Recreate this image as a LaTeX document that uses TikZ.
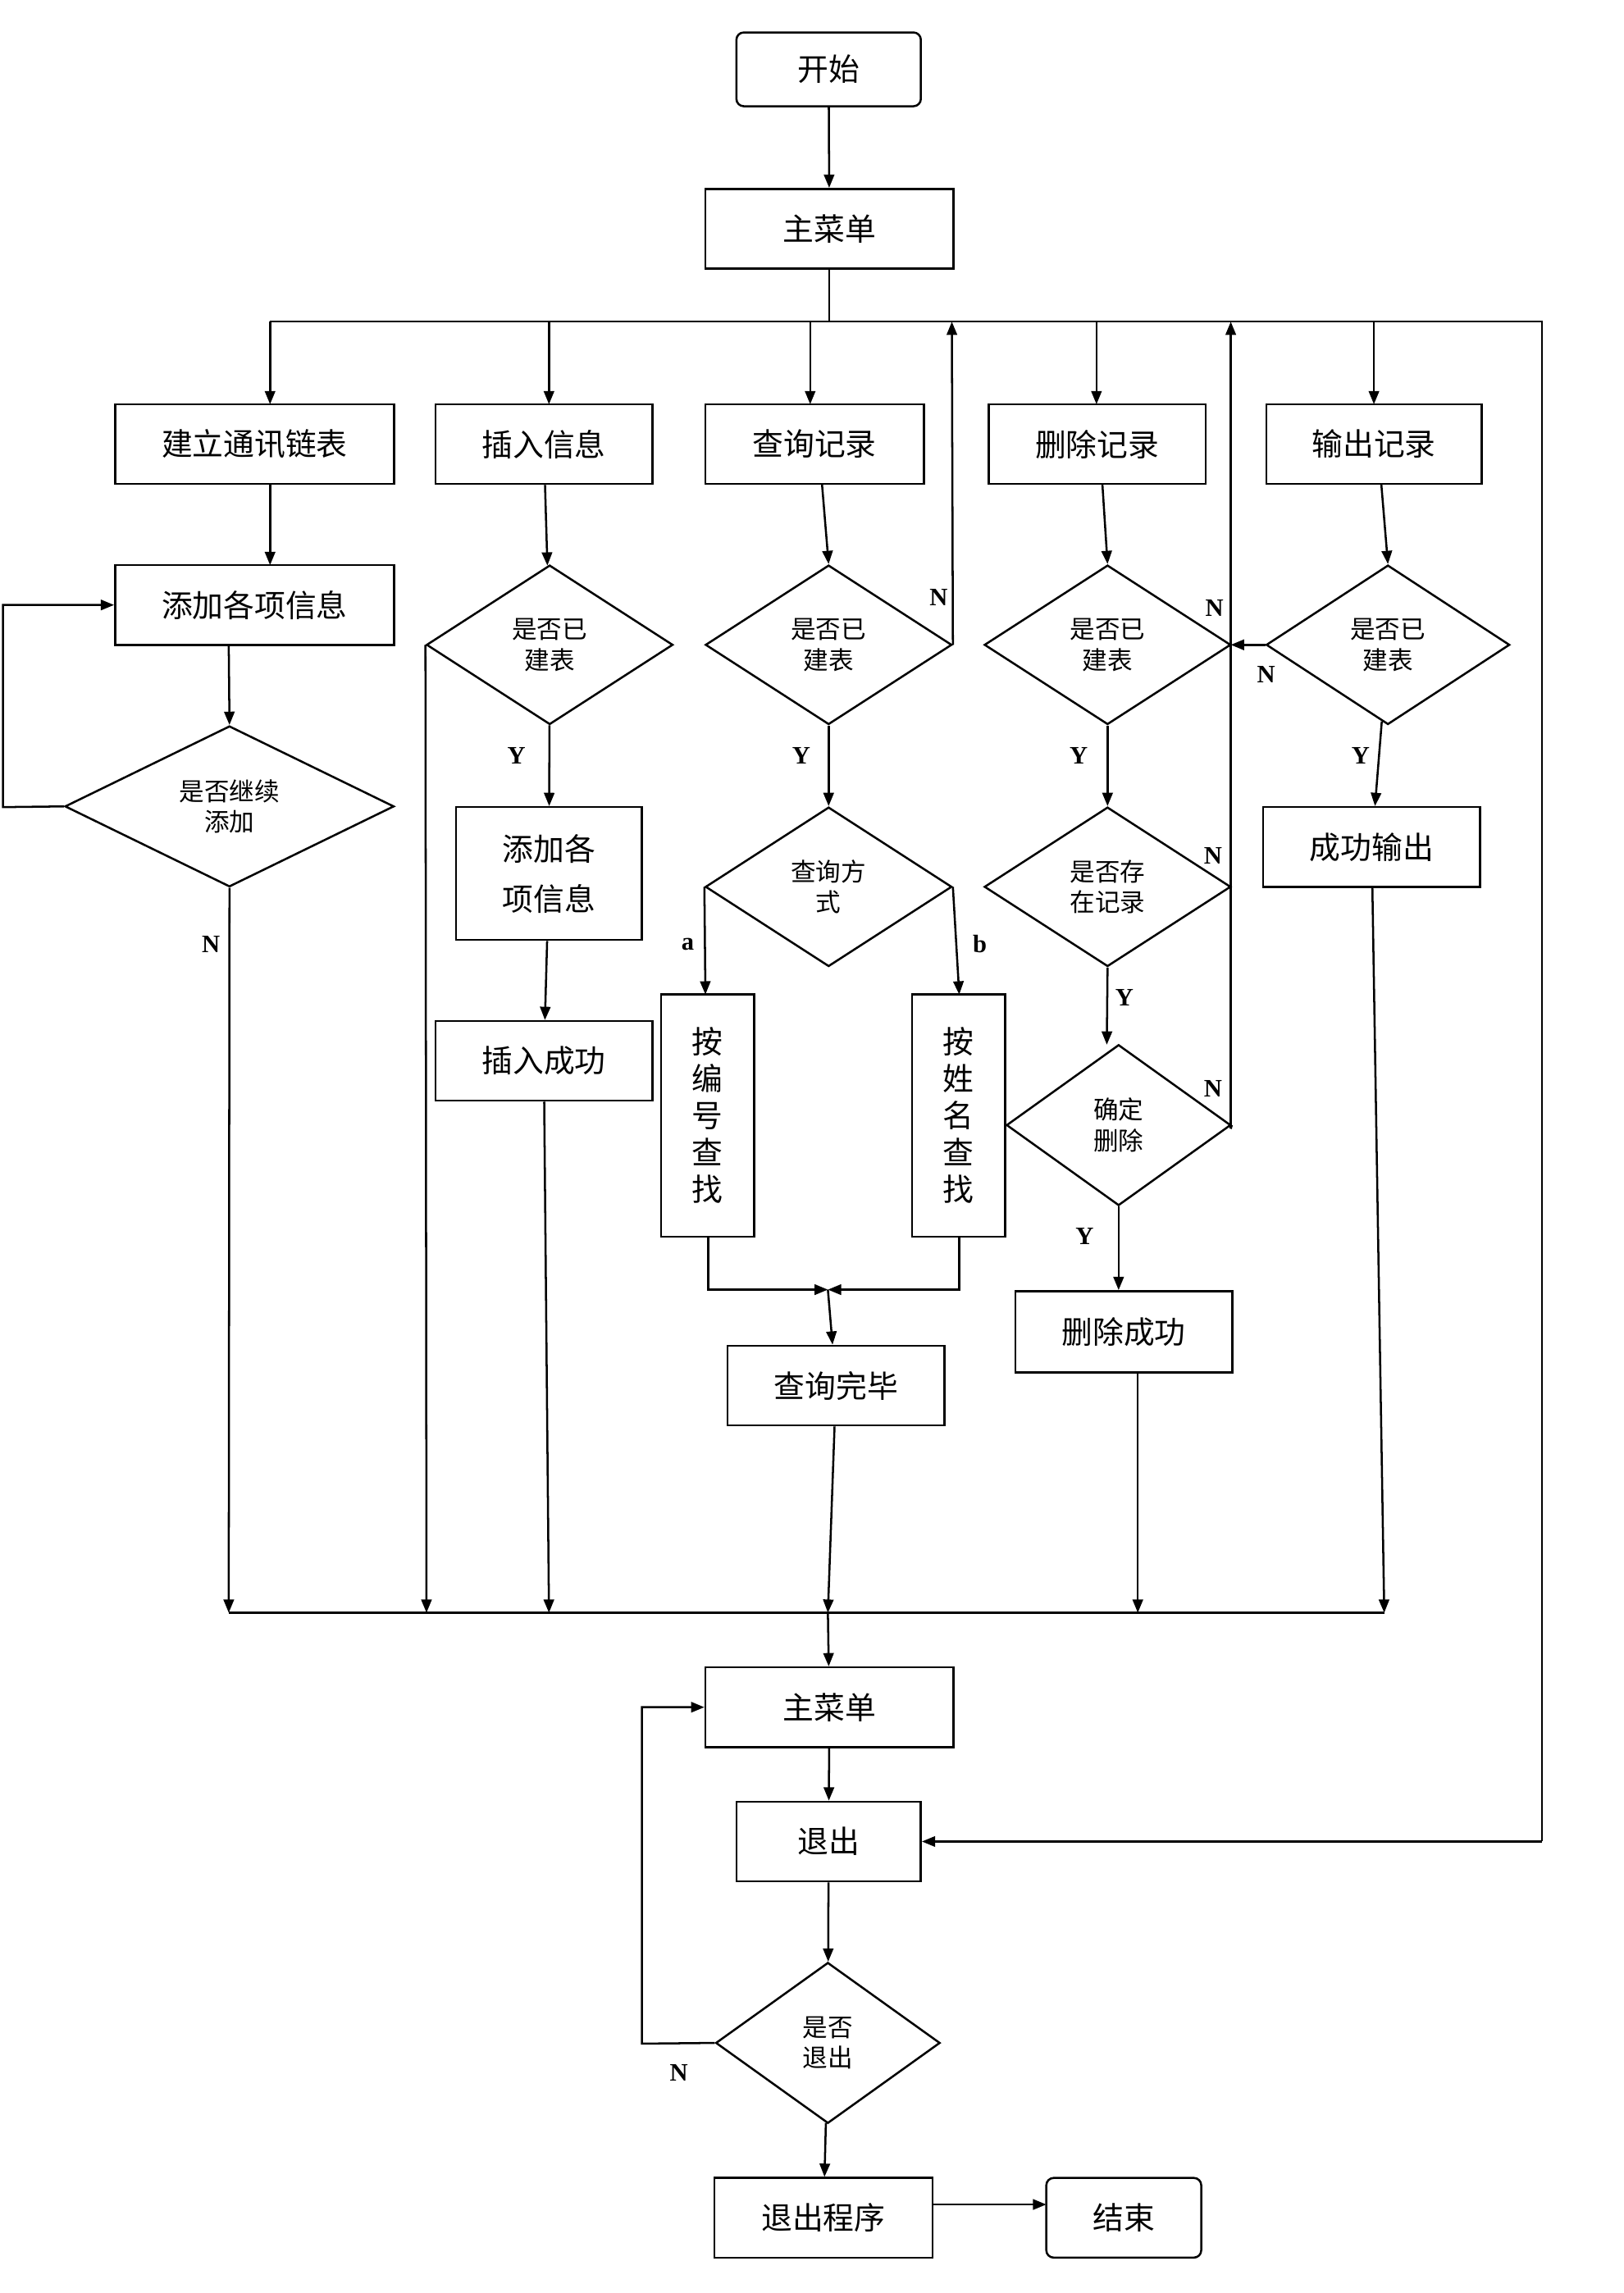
\documentclass[tikz,border=0pt]{standalone}
\usepackage{fontspec}
\setmainfont{Liberation Serif}
\newfontfamily\cjk{Noto Sans CJK SC}
\usetikzlibrary{shapes.geometric,arrows.meta}
\begin{document}
\begin{tikzpicture}[x=1pt,y=-1pt,line width=1.4pt,
 >={Triangle[length=9pt,width=7pt]},
 box/.style={draw,rectangle,inner sep=0pt,font=\cjk\fontsize{21}{24}\selectfont,align=center},
 rbox/.style={box,rounded corners=5pt},
 dia/.style={draw,diamond,inner sep=0pt,font=\cjk\fontsize{17}{21}\selectfont,align=center},
 lab/.style={font=\bfseries\fontsize{17}{20}\selectfont}]
\useasboundingbox (0,0) rectangle (1100,1554);
\def\B#1#2#3#4#5#6{\node[#6,minimum width=#4-#2,minimum height=#5-#3] (#1) at ({(#2+#4)/2},{(#3+#5)/2})}
\B{start}{499}{22}{624}{72}{rbox}{开始};
\B{m1}{478}{128}{646}{182}{box}{主菜单};
\B{b1}{78}{274}{267}{328}{box}{建立通讯链表};
\B{b2}{295}{274}{442}{328}{box}{插入信息};
\B{b3}{478}{274}{626}{328}{box}{查询记录};
\B{b4}{670}{274}{817}{328}{box}{删除记录};
\B{b5}{858}{274}{1004}{328}{box}{输出记录};
\B{add}{78}{383}{267}{437}{box}{添加各项信息};
\B{d1}{44}{492}{267}{601}{dia}{是否继续\\添加};
\B{d2}{289}{383}{456}{491}{dia}{是否已\\建表};
\B{add2}{309}{547}{435}{637}{box,font=\cjk\fontsize{21}{34}\selectfont}{添加各\\项信息};
\B{ins}{295}{692}{442}{746}{box}{插入成功};
\B{d3}{478}{383}{645}{491}{dia}{是否已\\建表};
\B{d3b}{478}{547}{645}{655}{dia}{查询方\\式};
\B{fa}{448}{674}{511}{838}{box,font=\cjk\fontsize{21}{25}\selectfont}{按\\编\\号\\查\\找};
\B{fb}{618}{674}{681}{838}{box,font=\cjk\fontsize{21}{25}\selectfont}{按\\姓\\名\\查\\找};
\B{qdone}{493}{912}{640}{966}{box}{查询完毕};
\B{d4}{667}{383}{834}{491}{dia}{是否已\\建表};
\B{d4b}{667}{547}{834}{655}{dia}{是否存\\在记录};
\B{d4c}{682}{708}{834}{817}{dia}{确定\\删除};
\B{del}{688}{875}{835}{930}{box}{删除成功};
\B{d5}{858}{383}{1023}{491}{dia}{是否已\\建表};
\B{out}{856}{547}{1003}{601}{box}{成功输出};
\B{m2}{478}{1130}{646}{1184}{box}{主菜单};
\B{ex}{499}{1221}{624}{1275}{box}{退出};
\B{d6}{485}{1330}{637}{1439}{dia}{是否\\退出};
\B{exp}{484}{1476}{632}{1530}{box}{退出程序};
\B{end}{709}{1476}{814}{1530}{rbox}{结束};
% top
\draw[->] (start) -- (m1);
\coordinate (t) at (562,218);
\draw (m1) -- (t);
\draw (183,218) -- (1045,218) -- (1045,1248);
\draw[->] (1045,1248) -- (ex.east);
\foreach \n/\x in {b1/183,b2/372,b3/549,b4/743,b5/931} \draw[->] (\x,218) -- (\x,274);
% col1
\draw[->] (183,328) -- (183,383);
\draw[->] (155,437) -- (d1.north);
\draw[->] (d1.west) -- (2,547) -- (2,410) -- (add.west);
\draw[->] (d1.south) -- (155,1093);
\node[lab] at (143,640) {N};
% col2
\draw[->] (d2.west) -- (289,1093);
\draw[->] (b2) -- (d2);
\draw[->] (d2) -- (add2);
\node[lab] at (350,512) {Y};
\draw[->] (add2) -- (ins);
\draw[->] (ins) -- (372,1093);
% col3
\draw[->] (557,328) -- (d3.north);
\draw[->] (d3.east) -- (645,218);
\node[lab] at (636,405) {N};
\draw[->] (d3) -- (d3b);
\node[lab] at (543,512) {Y};
\draw[->] (d3b.west) -- (478,674);
\node[lab] at (466,640) {a};
\draw[->] (d3b.east) -- (650,674);
\node[lab] at (664,640) {b};
\coordinate (jq) at (561,874);
\draw[->] (480,838) -- (480,874) -- (jq);
\draw[->] (650,838) -- (650,874) -- (jq);
\draw[->] (jq) -- (qdone);
\draw[->] (qdone) -- (561,1093);
% col4
\draw[->] (747,328) -- (d4.north);
\draw[->] (d4) -- (d4b);
\node[lab] at (731,512) {Y};
\draw[->] (d4b.south) -- (750,708);
\node[lab] at (762,676) {Y};
\draw[->] (d4c.south) -- (del.north -| d4c.south);
\node[lab] at (735,838) {Y};
\draw[->] (771,930) -- (771,1093);
\draw (d4c.east) -- (834,765);
\draw[->] (834,765) -- (834,218);
\node[lab] at (823,412) {N};
\node[lab] at (822,580) {N};
\node[lab] at (822,738) {N};
% col5
\draw[->] (936,328) -- (d5.north);
\draw[->] (d5.west) -- (834,437);
\node[lab] at (858,457) {N};
\draw[->] (d5) -- (out);
\node[lab] at (922,512) {Y};
\draw[->] (out) -- (938,1093);
% bottom
\draw (155,1093) -- (938,1093);
\draw[->] (561,1093) -- (m2);
\draw[->] (m2) -- (ex);
\draw[->] (ex) -- (d6);
\draw[->] (d6.west) -- (435,1385) -- (435,1157) -- (m2.west);
\node[lab] at (460,1405) {N};
\draw[->] (d6) -- (exp);
\draw[->] (632,1494) -- (709,1494);
\end{tikzpicture}
\end{document}
